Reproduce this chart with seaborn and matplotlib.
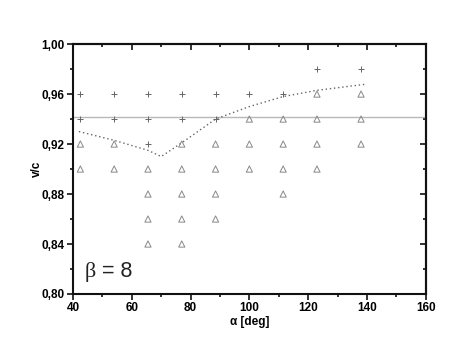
import numpy as np
import pandas as pd
import seaborn as sns
import matplotlib.pyplot as plt
from matplotlib.ticker import MultipleLocator

# stable points (+)
plus_alpha = [42.5, 54, 65.5, 77, 88.5, 100, 111.5,
              123, 138,
              42.5, 54, 65.5, 77, 88.5,
              65.5]
plus_v = [0.96] * 7 + [0.98] * 2 + [0.94] * 5 + [0.92]

# unstable points (triangles)
tri_alpha = [123, 138,
             100, 111.5, 123, 138,
             42.5, 54, 77, 88.5, 100, 111.5, 123, 138,
             42.5, 54, 65.5, 77, 88.5, 100, 111.5, 123,
             65.5, 77, 88.5, 111.5,
             65.5, 77, 88.5,
             65.5, 77]
tri_v = ([0.96] * 2 + [0.94] * 4 + [0.92] * 8 + [0.90] * 8
         + [0.88] * 4 + [0.86] * 3 + [0.84] * 2)

# boundary curve (dotted)
curve_alpha = [42, 54, 65.5, 70, 77, 88.5, 100, 111.5, 123, 140]
curve_v = [0.930, 0.923, 0.915, 0.910, 0.921, 0.940, 0.950, 0.958, 0.963, 0.968]

level_v = 0.942

sns.set_style("ticks")
plt.rcParams['font.family'] = ['Liberation Sans', 'DejaVu Sans']

fig = plt.figure(figsize=(4.69, 3.57), dpi=100)
ax = fig.add_axes([0.1557, 0.1765, 0.752, 0.700])

ax.axhline(level_v, color='#b8b8b8', lw=1.0, zorder=1)

sns.lineplot(x=curve_alpha, y=curve_v, ax=ax, color='#666666', lw=1.0,
             linestyle=(0, (1, 2)), sort=False, zorder=2)

sns.scatterplot(x=plus_alpha, y=plus_v, ax=ax, marker='+', s=22,
                color='#666666', linewidth=0.7, zorder=3)
sns.scatterplot(x=tri_alpha, y=tri_v, ax=ax, marker='^', s=20,
                facecolors='none', edgecolor='#888888', linewidth=0.7, zorder=3)

ax.set_xlim(40, 160)
ax.set_ylim(0.80, 1.00)
ax.xaxis.set_major_locator(MultipleLocator(20))
ax.xaxis.set_minor_locator(MultipleLocator(10))
ax.yaxis.set_major_locator(MultipleLocator(0.04))
ax.yaxis.set_minor_locator(MultipleLocator(0.02))
ax.yaxis.set_major_formatter(lambda v, p: f"{v:.2f}".replace('.', ','))

for side in ['left', 'bottom', 'top', 'right']:
    ax.spines[side].set_visible(True)
    ax.spines[side].set_linewidth(1.5)
    ax.spines[side].set_color('#111111')

ax.tick_params(which='both', direction='out', top=False, right=False,
               width=1.2, color='#111111', labelcolor='black')
ax.tick_params(which='major', length=4, labelsize=8.5, pad=2)
ax.tick_params(which='minor', length=2.5)
for lab in ax.get_xticklabels() + ax.get_yticklabels():
    lab.set_fontweight('bold')

# mirrored inward ticks on top and right
axt = ax.secondary_xaxis('top')
axt.xaxis.set_major_locator(MultipleLocator(20))
axt.xaxis.set_minor_locator(MultipleLocator(10))
axt.tick_params(which='both', direction='in', labeltop=False, width=1.2, color='#111111')
axt.tick_params(which='major', length=4)
axt.tick_params(which='minor', length=2.5)
axr = ax.secondary_yaxis('right')
axr.yaxis.set_major_locator(MultipleLocator(0.04))
axr.yaxis.set_minor_locator(MultipleLocator(0.02))
axr.tick_params(which='both', direction='in', labelright=False, width=1.2, color='#111111')
axr.tick_params(which='major', length=4)
axr.tick_params(which='minor', length=2.5)
for a in (axt, axr):
    for sp in a.spines.values():
        sp.set_linewidth(1.5)
        sp.set_color('#111111')

ax.set_xlabel('α [deg]', fontsize=8.5, fontweight='bold', labelpad=1.5, color='black')
ax.set_ylabel('v/c', fontsize=8.5, fontweight='bold', labelpad=-1, color='black')

ax.text(44, 0.8136, 'β', fontsize=16, color='#222222', family='Liberation Serif')
ax.text(50, 0.8136, '= 8', fontsize=15.5, color='#222222', family='Liberation Sans')

fig.savefig('out.png', dpi=100)
